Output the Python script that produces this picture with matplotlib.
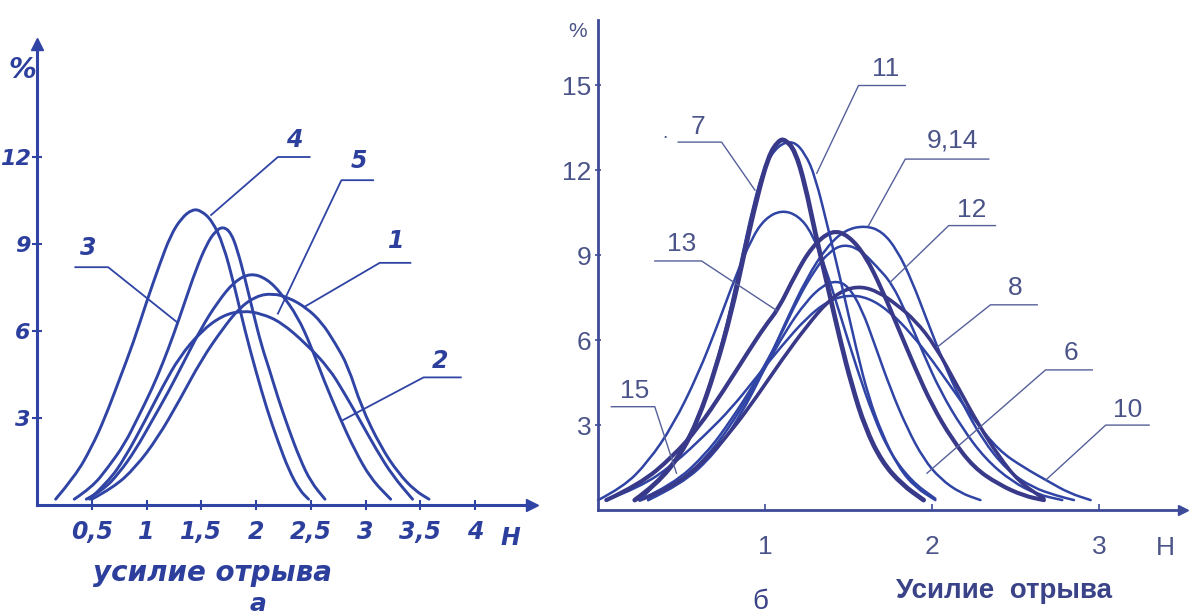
import matplotlib.pyplot as plt
from matplotlib.path import Path
from matplotlib.patches import PathPatch

# ---- panel a (left) ----
a_xticks = [0.5, 1, 1.5, 2, 2.5, 3, 3.5, 4]
a_xlabels = ['0,5', '1', '1,5', '2', '2,5', '3', '3,5', '4']
a_yticks = [3, 6, 9, 12]

a_x1 = [0.5, 0.7, 0.9, 1.1, 1.3, 1.5, 1.7, 1.85, 2.0, 2.15, 2.3, 2.46, 2.6, 2.72, 2.84, 2.96, 3.14, 3.3, 3.45, 3.58]
a_y1 = [0.2, 0.6, 1.3, 2.3, 3.6, 5.0, 6.1, 6.8, 7.2, 7.3, 7.15, 6.8, 6.3, 5.6, 4.8, 3.4, 2.0, 1.1, 0.5, 0.2]
a_x2 = [0.45, 0.6, 0.75, 0.9, 1.05, 1.2, 1.35, 1.5, 1.65, 1.8, 1.95, 2.1, 2.23, 2.38, 2.5, 2.62, 2.76, 2.9, 3.05, 3.23]
a_y2 = [0.2, 0.5, 1.1, 1.9, 2.9, 3.9, 5.0, 6.1, 7.0, 7.7, 8.0, 7.8, 7.3, 6.5, 5.5, 4.3, 3.05, 1.9, 0.9, 0.2]
a_x3 = [0.34, 0.5, 0.65, 0.8, 0.92, 1.05, 1.15, 1.25, 1.35, 1.45, 1.55, 1.63, 1.7, 1.77, 1.83, 1.9, 1.97, 2.05, 2.12, 2.2, 2.3, 2.4, 2.5, 2.63]
a_y3 = [0.2, 0.6, 1.3, 2.1, 3.0, 4.0, 4.9, 5.9, 7.0, 8.1, 9.0, 9.45, 9.6, 9.4, 8.8, 7.8, 6.7, 5.5, 4.7, 3.7, 2.6, 1.6, 0.8, 0.2]
a_x4 = [0.17, 0.35, 0.5, 0.62, 0.75, 0.88, 1.0, 1.12, 1.22, 1.32, 1.42, 1.5, 1.6, 1.7, 1.8, 1.9, 2.0, 2.1, 2.2, 2.3, 2.4, 2.48]
a_y4 = [0.2, 1.0, 2.0, 3.0, 4.3, 5.6, 7.0, 8.3, 9.3, 9.9, 10.2, 10.15, 9.8, 9.0, 7.6, 6.0, 4.6, 3.3, 2.2, 1.2, 0.5, 0.2]
a_x5 = [0.48, 0.65, 0.8, 1.0, 1.15, 1.3, 1.5, 1.7, 1.88, 2.05, 2.23, 2.46, 2.67, 2.8, 2.93, 3.1, 3.25, 3.43]
a_y5 = [0.2, 0.8, 1.6, 3.0, 4.1, 5.1, 6.0, 6.55, 6.7, 6.6, 6.3, 5.55, 4.7, 3.9, 3.05, 1.9, 1.0, 0.2]

a_curves = [(a_x1, a_y1), (a_x2, a_y2), (a_x3, a_y3), (a_x4, a_y4), (a_x5, a_y5)]

# label, text centre, underline (x0, x1, y), leader attach x, leader end on curve
a_labels = ['4', '5', '1', '3', '2']
a_text = [(2.35, 12.6), (2.94, 11.85), (3.28, 9.1), (0.47, 8.85), (3.68, 4.95)]
a_under = [(2.2, 2.49, 12.0), (2.78, 3.07, 11.2), (3.13, 3.41, 8.35), (0.35, 0.65, 8.2), (3.53, 3.87, 4.4)]
a_attach = [2.2, 2.78, 3.13, 0.65, 3.53]
a_end = [(1.59, 10.0), (2.2, 6.6), (2.45, 6.85), (1.28, 6.3), (2.78, 2.9)]

# ---- panel б (right) ----
b_xticks = [1, 2, 3]
b_yticks = [3, 6, 9, 12, 15]

b_x7 = [0.22, 0.35, 0.5, 0.6, 0.7, 0.8, 0.88, 0.95, 1.02, 1.08, 1.12, 1.18, 1.24, 1.3, 1.38, 1.45, 1.52, 1.6, 1.7, 1.82, 1.95]
b_y7 = [0.35, 0.9, 2.0, 3.2, 4.9, 7.0, 9.2, 11.0, 12.5, 13.05, 13.1, 12.7, 11.5, 9.8, 7.8, 6.0, 4.4, 2.9, 1.7, 0.9, 0.35]
b_x11 = [0.25, 0.4, 0.55, 0.65, 0.75, 0.85, 0.93, 1.0, 1.08, 1.17, 1.24, 1.3, 1.38, 1.45, 1.55, 1.62, 1.7, 1.8, 1.9, 2.02]
b_y11 = [0.35, 1.2, 2.6, 4.0, 6.0, 8.6, 10.8, 12.2, 12.9, 13.05, 12.6, 11.8, 9.9, 8.2, 5.6, 4.0, 2.7, 1.5, 0.8, 0.35]
b_x15 = [0.0, 0.15, 0.3, 0.45, 0.6, 0.72, 0.82, 0.92, 1.0, 1.1, 1.2, 1.28, 1.36, 1.45, 1.55, 1.65, 1.75, 1.88, 2.02]
b_y15 = [0.35, 0.8, 1.7, 3.0, 4.8, 6.6, 8.2, 9.6, 10.3, 10.6, 10.4, 9.8, 8.6, 6.9, 5.0, 3.3, 2.0, 1.0, 0.4]
b_x914 = [0.3, 0.5, 0.7, 0.85, 1.0, 1.12, 1.25, 1.37, 1.48, 1.6, 1.7, 1.79, 1.88, 1.97, 2.07, 2.17, 2.3, 2.45, 2.6, 2.75, 2.85]
b_y914 = [0.35, 0.9, 2.0, 3.3, 5.0, 6.6, 8.2, 9.3, 9.9, 10.05, 9.85, 9.2, 8.1, 6.7, 5.2, 3.9, 2.5, 1.4, 0.8, 0.5, 0.35]
b_x13 = [0.05, 0.25, 0.45, 0.6, 0.75, 0.9, 1.0, 1.08, 1.18, 1.28, 1.4, 1.5, 1.6, 1.7, 1.8, 1.9, 2.0, 2.12, 2.25, 2.4, 2.55, 2.67]
b_y13 = [0.35, 0.9, 1.9, 2.9, 4.2, 5.6, 6.5, 7.1, 8.3, 9.3, 9.9, 9.7, 9.0, 7.8, 6.4, 5.0, 3.7, 2.5, 1.5, 0.9, 0.5, 0.35]
b_x12 = [0.25, 0.45, 0.65, 0.8, 0.95, 1.08, 1.2, 1.3, 1.38, 1.47, 1.57, 1.67, 1.76, 1.85, 1.95, 2.05, 2.18, 2.32, 2.48, 2.63, 2.78]
b_y12 = [0.35, 0.9, 2.0, 3.2, 4.6, 6.0, 7.5, 8.5, 9.1, 9.4, 9.2, 8.6, 8.0, 6.9, 5.5, 4.2, 2.9, 1.8, 1.0, 0.55, 0.35]
b_x6 = [0.3, 0.5, 0.7, 0.85, 1.0, 1.12, 1.25, 1.35, 1.43, 1.5, 1.58, 1.66, 1.75, 1.85, 1.95, 2.05, 2.17, 2.29]
b_y6 = [0.35, 1.0, 2.2, 3.5, 5.0, 6.3, 7.4, 7.95, 8.1, 7.9, 7.1, 5.8, 4.3, 2.9, 1.8, 1.1, 0.6, 0.35]
b_x8 = [0.25, 0.45, 0.65, 0.8, 0.95, 1.1, 1.25, 1.38, 1.48, 1.58, 1.68, 1.78, 1.9, 2.02, 2.15, 2.28, 2.4, 2.52, 2.67]
b_y8 = [0.35, 0.8, 1.8, 2.8, 4.0, 5.3, 6.5, 7.4, 7.8, 7.9, 7.7, 7.3, 6.7, 5.8, 4.4, 3.0, 1.9, 1.0, 0.4]
b_x10 = [0.05, 0.25, 0.45, 0.65, 0.8, 0.95, 1.1, 1.25, 1.38, 1.5, 1.62, 1.75, 1.88, 2.0, 2.12, 2.25, 2.4, 2.55, 2.7, 2.82, 2.95]
b_y10 = [0.35, 0.8, 1.6, 2.7, 3.6, 4.7, 5.8, 6.8, 7.4, 7.6, 7.5, 7.0, 6.2, 5.3, 4.3, 3.2, 2.1, 1.5, 1.0, 0.6, 0.35]

b_curves = [(b_x15, b_y15, 1.8), (b_x914, b_y914, 1.8), (b_x12, b_y12, 1.8), (b_x6, b_y6, 1.8),
            (b_x10, b_y10, 1.8), (b_x8, b_y8, 2.6), (b_x13, b_y13, 3.0), (b_x11, b_y11, 1.8), (b_x7, b_y7, 3.4)]

b_labels = ['11', '7', '9,14', '12', '13', '8', '6', '10', '15']
b_text = [(1.72, 15.6), (0.6, 13.55), (2.12, 13.05), (2.24, 10.6), (0.5, 9.4), (2.5, 7.85), (2.83, 5.55), (3.17, 3.55), (0.22, 4.2)]
b_under = [(1.56, 1.84, 15.0), (0.48, 0.74, 13.0), (1.84, 2.34, 12.4), (2.1, 2.38, 10.05), (0.34, 0.62, 8.8),
           (2.35, 2.63, 7.25), (2.68, 2.96, 4.95), (3.04, 3.3, 3.0), (0.08, 0.34, 3.65)]
b_attach = [1.56, 0.74, 1.84, 2.1, 0.62, 2.35, 2.68, 3.04, 0.34]
b_end = [(1.31, 11.9), (0.94, 11.3), (1.62, 10.05), (1.75, 8.05), (1.07, 7.05), (2.03, 5.75), (1.97, 1.3), (2.68, 1.05), (0.47, 1.3)]

line_c = '#2f44a4'
dark_c = '#39398a'
text_c = '#2c3f9c'
gray_c = '#4b5488'

fig = plt.figure(figsize=(11.98, 6.14), dpi=100)
FW, FH = 1198, 614


def place(x0, x1, ppx_x, x_at0, y0, y1, ppx_y, y_at0):
    # axes rectangle from pixel scale of the scanned picture
    left = x_at0 + x0 * ppx_x
    right = x_at0 + x1 * ppx_x
    bottom = y_at0 - y0 * ppx_y
    top = y_at0 - y1 * ppx_y
    return [left / FW, 1 - bottom / FH, (right - left) / FW, (bottom - top) / FH]


def smooth(ax, xs, ys, **kw):
    # quadratic bezier through midpoints, drawn in data coordinates
    pts = list(zip(xs, ys))
    verts = [pts[0]]
    codes = [Path.MOVETO]
    for i in range(1, len(pts) - 1):
        mid = ((pts[i][0] + pts[i + 1][0]) / 2, (pts[i][1] + pts[i + 1][1]) / 2)
        verts += [pts[i], mid]
        codes += [Path.CURVE3, Path.CURVE3]
    verts.append(pts[-1])
    codes.append(Path.LINETO)
    ax.add_patch(PathPatch(Path(verts, codes), fill=False, capstyle='round', **kw))


# ---------- panel a ----------
axa = fig.add_axes(place(-0.33, 4.95, 109.5, 37, -0.5, 16.3, 29, 505))
axa.set_xlim(-0.33, 4.95)
axa.set_ylim(-0.5, 16.3)
fa = dict(family='DejaVu Sans', weight='bold', style='italic', color=text_c)

for x, y in a_curves:
    smooth(axa, x, y, edgecolor=line_c, lw=2.1)

for lab, (tx, ty), (u0, u1, uy), ax_, (ex, ey) in zip(a_labels, a_text, a_under, a_attach, a_end):
    other = u1 if ax_ == u0 else u0
    axa.plot([ex, ax_, other], [ey, uy, uy], color=line_c, lw=1.3)
    axa.text(tx, ty, lab, ha='center', va='center', fontsize=17, **fa)

for s in ['top', 'right']:
    axa.spines[s].set_visible(False)
axa.spines['left'].set_position(('data', 0))
axa.spines['bottom'].set_position(('data', 0))
axa.spines['left'].set_bounds(0, 15.9)
axa.spines['bottom'].set_bounds(0, 4.52)
for s in ['left', 'bottom']:
    axa.spines[s].set_color(line_c)
    axa.spines[s].set_linewidth(2.2)
axa.plot(4.52, 0, '>', ms=9, color=line_c, clip_on=False)
axa.plot(0, 15.9, '^', ms=9, color=line_c, clip_on=False)
axa.set_xticks(a_xticks)
axa.set_xticklabels(a_xlabels, fontsize=17, **fa)
axa.set_yticks(a_yticks)
axa.set_yticklabels([str(v) for v in a_yticks], fontsize=16, **fa)
axa.tick_params(axis='x', direction='inout', length=7, width=1.5, color=line_c, pad=7)
axa.tick_params(axis='y', direction='inout', length=7, width=1.5, color=line_c, pad=1)
axa.text(4.32, -1.15, 'Н', ha='center', va='center', fontsize=17, **fa)
axa.text(-0.13, 15.0, '%', ha='center', va='center', fontsize=20, **fa)
axa.text(1.6, -2.35, 'усилие отрыва', ha='center', va='center', fontsize=20, **fa)
axa.text(2.02, -3.4, 'а', ha='center', va='center', fontsize=18, **fa)

# ---------- panel б ----------
axb = fig.add_axes(place(-0.15, 3.58, 167, 598, -0.5, 17.6, 28.3, 510))
axb.set_xlim(-0.15, 3.58)
axb.set_ylim(-0.5, 17.6)
fb = dict(family='Liberation Sans', color=gray_c)

for x, y, w in b_curves:
    smooth(axb, x, y, edgecolor=dark_c if w > 2 else line_c, lw=w)

for lab, (tx, ty), (u0, u1, uy), ax_, (ex, ey) in zip(b_labels, b_text, b_under, b_attach, b_end):
    other = u1 if ax_ == u0 else u0
    axb.plot([ex, ax_, other], [ey, uy, uy], color='#55609a', lw=1.0)
    axb.text(tx, ty, lab, ha='center', va='center', fontsize=19, **fb)
axb.text(0.4, 13.3, '.', ha='center', va='center', fontsize=14, **fb)

for s in ['top', 'right']:
    axb.spines[s].set_visible(False)
axb.spines['left'].set_position(('data', 0))
axb.spines['bottom'].set_position(('data', 0))
axb.spines['left'].set_bounds(0, 17.3)
axb.spines['bottom'].set_bounds(0, 3.5)
for s in ['left', 'bottom']:
    axb.spines[s].set_color('#3d4a98')
    axb.spines[s].set_linewidth(2.0)
axb.plot(3.5, 0, '>', ms=7, color='#3d4a98', clip_on=False)
axb.set_xticks(b_xticks)
axb.set_xticklabels([str(v) for v in b_xticks], fontsize=19, **fb)
axb.set_yticks(b_yticks)
axb.set_yticklabels([str(v) for v in b_yticks], fontsize=19, **fb)
axb.tick_params(axis='x', direction='in', length=4, width=1.2, color='#3d4a98', pad=18)
axb.tick_params(axis='y', direction='inout', length=5, width=1.2, color='#3d4a98', pad=2)
axb.text(3.4, -1.35, 'Н', ha='center', va='center', fontsize=19, **fb)
axb.text(-0.12, 16.9, '%', ha='center', va='center', fontsize=15, **fb)
axb.text(2.43, -2.85, 'Усилие  отрыва', ha='center', va='center', fontsize=20, weight='bold',
         family='Liberation Sans', color='#3a4388')
axb.text(0.97, -3.25, 'б', ha='center', va='center', fontsize=20, family='Liberation Sans', color='#3a4388')

fig.savefig('out.png', dpi=100)
